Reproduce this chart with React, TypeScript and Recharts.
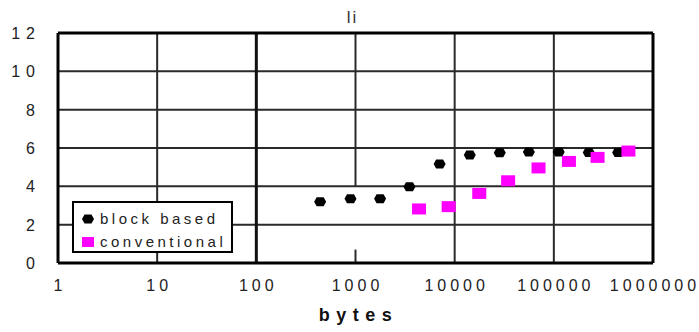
import {
	CartesianGrid,
	Label,
	Legend,
	ReferenceLine,
	Scatter,
	ScatterChart,
	XAxis,
	YAxis,
} from "recharts";

const blockX = [440, 890, 1770, 3500, 7050, 14200, 28500, 56000, 112000, 225000, 445000];
const blockY = [3.2, 3.35, 3.35, 3.98, 5.16, 5.63, 5.75, 5.79, 5.79, 5.77, 5.77];
const convX = [4370, 8700, 17700, 34600, 70100, 142000, 276000, 565000];
const convY = [2.82, 2.94, 3.63, 4.29, 4.96, 5.3, 5.51, 5.84];
const xTicks = [1, 10, 100, 1000, 10000, 100000, 1000000];
const yTicks = [0, 2, 4, 6, 8, 10, 12];
const seriesNames = ["block based", "conventional"];
const title = "li";
const xTitle = "bytes";

const blockData = blockX.map((x, i) => ({ x, y: blockY[i] }));
const convData = convX.map((x, i) => ({ x, y: convY[i] }));

const FONT = '"Liberation Sans", Arial, sans-serif';
const MAGENTA = "#ff00ff";
const GRID = "#2a2a2a";

const BlockDot = (props: any) => {
	const { cx, cy } = props;
	if (cx == null || cy == null) return null;
	return (
		<polygon
			points={`${cx - 6},${cy} ${cx - 3.5},${cy - 4.5} ${cx + 3.5},${cy - 4.5} ${cx + 6},${cy} ${cx + 3.5},${cy + 4.5} ${cx - 3.5},${cy + 4.5}`}
			fill="#000"
		/>
	);
};

const ConvDot = (props: any) => {
	const { cx, cy } = props;
	if (cx == null || cy == null) return null;
	return <rect x={cx - 7} y={cy - 5.5} width={14} height={11} fill={MAGENTA} />;
};

const XTick = (props: any) => {
	const { x, y, payload } = props;
	return (
		<text
			x={x + 2}
			y={y + 28}
			textAnchor="middle"
			fontFamily={FONT}
			fontSize={16}
			letterSpacing={4}
			fill="#222"
		>
			{payload.value}
		</text>
	);
};

const YTick = (props: any) => {
	const { x, y, payload } = props;
	return (
		<text
			x={x - 17}
			y={y + 6}
			textAnchor="end"
			fontFamily={FONT}
			fontSize={16}
			letterSpacing={6}
			fill="#222"
		>
			{payload.value}
		</text>
	);
};

const LegendBox = () => (
	<div
		style={{
			boxSizing: "border-box",
			width: 161,
			height: 52,
			border: "2px solid #000",
			background: "#fff",
			fontFamily: FONT,
			fontSize: 15,
			letterSpacing: 3.5,
			color: "#222",
			padding: "4px 0 0 7px",
			lineHeight: "23px",
		}}
	>
		<div style={{ display: "flex", alignItems: "center" }}>
			<svg width={14} height={12} style={{ marginRight: 5 }}>
				<polygon points="1,6 3.5,1.5 10.5,1.5 13,6 10.5,10.5 3.5,10.5" fill="#000" />
			</svg>
			{seriesNames[0]}
		</div>
		<div style={{ display: "flex", alignItems: "center" }}>
			<svg width={14} height={12} style={{ marginRight: 5 }}>
				<rect x={1} y={1} width={12} height={10} fill={MAGENTA} />
			</svg>
			{seriesNames[1]}
		</div>
	</div>
);

export default function App() {
	return (
		<div style={{ position: "absolute", left: 0, top: 0, background: "#fff" }}>
			<ScatterChart
				width={699}
				height={332}
				margin={{ top: 33, right: 46, bottom: 0, left: 0 }}
			>
				<CartesianGrid vertical={false} stroke={GRID} strokeWidth={2} />
				<XAxis
					type="number"
					dataKey="x"
					scale="log"
					domain={[1, 1000000]}
					ticks={xTicks}
					allowDataOverflow
					height={69}
					tickSize={0}
					tickMargin={0}
					tickLine={false}
					axisLine={{ stroke: "#000", strokeWidth: 3 }}
					tick={<XTick />}
				>
					<Label
						content={(p: any) => {
							const vb = p.viewBox || {};
							return (
								<text
									x={vb.x + vb.width / 2 + 3}
									y={vb.y + 58}
									textAnchor="middle"
									fontFamily={FONT}
									fontSize={18}
									fontWeight="bold"
									letterSpacing={6.5}
									fill="#111"
								>
									{xTitle}
								</text>
							);
						}}
					/>
				</XAxis>
				<YAxis
					type="number"
					dataKey="y"
					domain={[0, 12]}
					ticks={yTicks}
					width={58}
					tickSize={0}
					tickMargin={0}
					tickLine={false}
					axisLine={{ stroke: "#000", strokeWidth: 3 }}
					tick={<YTick />}
				/>
				<ReferenceLine x={10} stroke={GRID} strokeWidth={2} />
				<ReferenceLine x={100} stroke="#111" strokeWidth={3} />
				<ReferenceLine
					segment={[
						{ x: 1000, y: 4 },
						{ x: 1000, y: 12 },
					]}
					stroke={GRID}
					strokeWidth={2}
				/>
				<ReferenceLine
					segment={[
						{ x: 1000, y: 0 },
						{ x: 1000, y: 0.7 },
					]}
					stroke={GRID}
					strokeWidth={2}
				/>
				<ReferenceLine x={10000} stroke={GRID} strokeWidth={2} />
				<ReferenceLine x={100000} stroke={GRID} strokeWidth={2} />
				<ReferenceLine x={1000000} stroke="#000" strokeWidth={3} />
				<ReferenceLine
					y={12}
					stroke="#000"
					strokeWidth={3}
					label={(p: any) => {
						const vb = p.viewBox || {};
						return (
							<text
								x={vb.x + vb.width / 2 - 3}
								y={vb.y - 10}
								textAnchor="middle"
								fontFamily={FONT}
								fontSize={17}
								letterSpacing={2}
								fill="#333"
							>
								{title}
							</text>
						);
					}}
				/>
				<Legend
					layout="vertical"
					align="center"
					verticalAlign="middle"
					wrapperStyle={{ left: 72, top: 201, width: 161, height: 52 }}
					content={<LegendBox />}
				/>
				<Scatter
					name={seriesNames[0]}
					data={blockData}
					shape={BlockDot}
					isAnimationActive={false}
				/>
				<Scatter
					name={seriesNames[1]}
					data={convData}
					shape={ConvDot}
					isAnimationActive={false}
				/>
			</ScatterChart>
		</div>
	);
}
